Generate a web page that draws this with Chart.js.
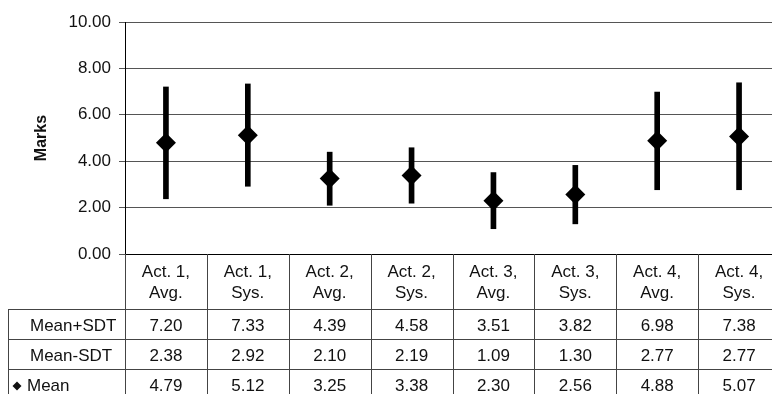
<!DOCTYPE html>
<html>
<head>
<meta charset="utf-8">
<script src="https://cdn.jsdelivr.net/npm/chart.js@4"></script>
<style>
  body { margin: 0; background: #fff; }
  #wrap { width: 772px; height: 394px; overflow: hidden; position: relative; }
</style>
</head>
<body>
<div id="wrap"><canvas id="meuGrafico" width="790" height="400"></canvas></div>
<script>
var categorias = [['Act. 1,', 'Avg.'], ['Act. 1,', 'Sys.'], ['Act. 2,', 'Avg.'], ['Act. 2,', 'Sys.'],
                  ['Act. 3,', 'Avg.'], ['Act. 3,', 'Sys.'], ['Act. 4,', 'Avg.'], ['Act. 4,', 'Sys.']];
var meanMaisSdt  = [7.20, 7.33, 4.39, 4.58, 3.51, 3.82, 6.98, 7.38];
var meanMenosSdt = [2.38, 2.92, 2.10, 2.19, 1.09, 1.30, 2.77, 2.77];
var medias       = [4.79, 5.12, 3.25, 3.38, 2.30, 2.56, 4.88, 5.07];
var yMin = 0, yMax = 10, yPasso = 2;

var fonte = 'Liberation Sans, Arial, sans-serif';
var corLinha = '#444';

// tabela embaixo do grafico
var tabelaPlugin = {
    id: 'tabela',
    afterDraw: function(chart) {
        var ctx = chart.ctx;
        var x = chart.scales.x;
        var area = chart.chartArea;
        var colW = (area.right - area.left) / categorias.length;
        var topo = x.bottom;           // fim da linha dos rotulos
        var alt = 30;
        var fundo = topo + alt * 3;
        var esq = 8;

        ctx.save();
        ctx.strokeStyle = corLinha;
        ctx.lineWidth = 1;
        ctx.beginPath();
        for (var i = 0; i <= categorias.length; i++) {
            var xx = Math.round(area.left + i * colW) + 0.5;
            ctx.moveTo(xx, area.bottom);
            ctx.lineTo(xx, fundo);
        }
        ctx.moveTo(esq + 0.5, topo);
        ctx.lineTo(esq + 0.5, fundo);
        for (var r = 0; r <= 3; r++) {
            var yy = Math.round(topo + r * alt) + 0.5;
            ctx.moveTo(esq, yy);
            ctx.lineTo(area.right, yy);
        }
        ctx.stroke();

        var linhas = [
            { nome: 'Mean+SDT', dados: meanMaisSdt },
            { nome: 'Mean-SDT', dados: meanMenosSdt },
            { nome: 'Mean', dados: medias, chave: true }
        ];
        ctx.fillStyle = '#111';
        ctx.font = '17px ' + fonte;
        ctx.textBaseline = 'middle';
        linhas.forEach(function(l, r) {
            var cy = topo + r * alt + alt / 2 + 2;
            ctx.textAlign = 'left';
            if (l.chave) {
                ctx.beginPath();
                ctx.moveTo(17, cy - 4.5);
                ctx.lineTo(21.5, cy);
                ctx.lineTo(17, cy + 4.5);
                ctx.lineTo(12.5, cy);
                ctx.closePath();
                ctx.fill();
                ctx.fillText(l.nome, 27, cy);
            } else {
                ctx.fillText(l.nome, 30, cy);
            }
            ctx.textAlign = 'center';
            l.dados.forEach(function(v, i) {
                ctx.fillText(v.toFixed(2), x.getPixelForValue(i), cy);
            });
        });
        ctx.restore();
    }
};

var ctx1 = document.getElementById('meuGrafico').getContext('2d');
var meuGrafico = new Chart(ctx1, {
    type: 'bar',
    data: {
        labels: categorias,
        datasets: [{
            label: 'SDT',
            data: meanMenosSdt.map(function(v, i) { return [v, meanMaisSdt[i]]; }),
            backgroundColor: '#000',
            barThickness: 5,
            order: 2
        },
        {
            type: 'line',
            label: 'Mean',
            data: medias,
            showLine: false,
            pointStyle: 'rectRot',
            pointRadius: 10,
            pointBackgroundColor: '#000',
            pointBorderColor: '#000',
            pointBorderWidth: 0,
            order: 1
        }]
    },
    options: {
        responsive: false,
        animation: false,
        layout: { padding: { top: 22, right: 4, bottom: 91, left: 0 } },
        plugins: {
            legend: { display: false },
            tooltip: { enabled: false }
        },
        scales: {
            x: {
                offset: true,
                grid: { display: false },
                border: { display: true, color: '#000', width: 1 },
                ticks: {
                    color: '#111',
                    font: { family: fonte, size: 17, lineHeight: 1.24 },
                    padding: 0,
                    maxRotation: 0,
                    autoSkip: false
                },
                afterFit: function(axis) { axis.height = 55; }
            },
            y: {
                min: yMin,
                max: yMax,
                grid: { color: '#555', tickLength: 6 },
                border: { display: true, color: '#000', width: 1 },
                ticks: {
                    stepSize: yPasso,
                    color: '#111',
                    padding: 8,
                    font: { family: fonte, size: 17 },
                    callback: function(v) { return v.toFixed(2); }
                },
                title: {
                    display: true,
                    text: 'Marks',
                    color: '#111',
                    font: { family: fonte, size: 16, weight: 'bold' },
                    padding: { top: 32 }
                },
                afterFit: function(axis) { axis.width = 125; }
            }
        }
    },
    plugins: [tabelaPlugin]
});
</script>
</body>
</html>
